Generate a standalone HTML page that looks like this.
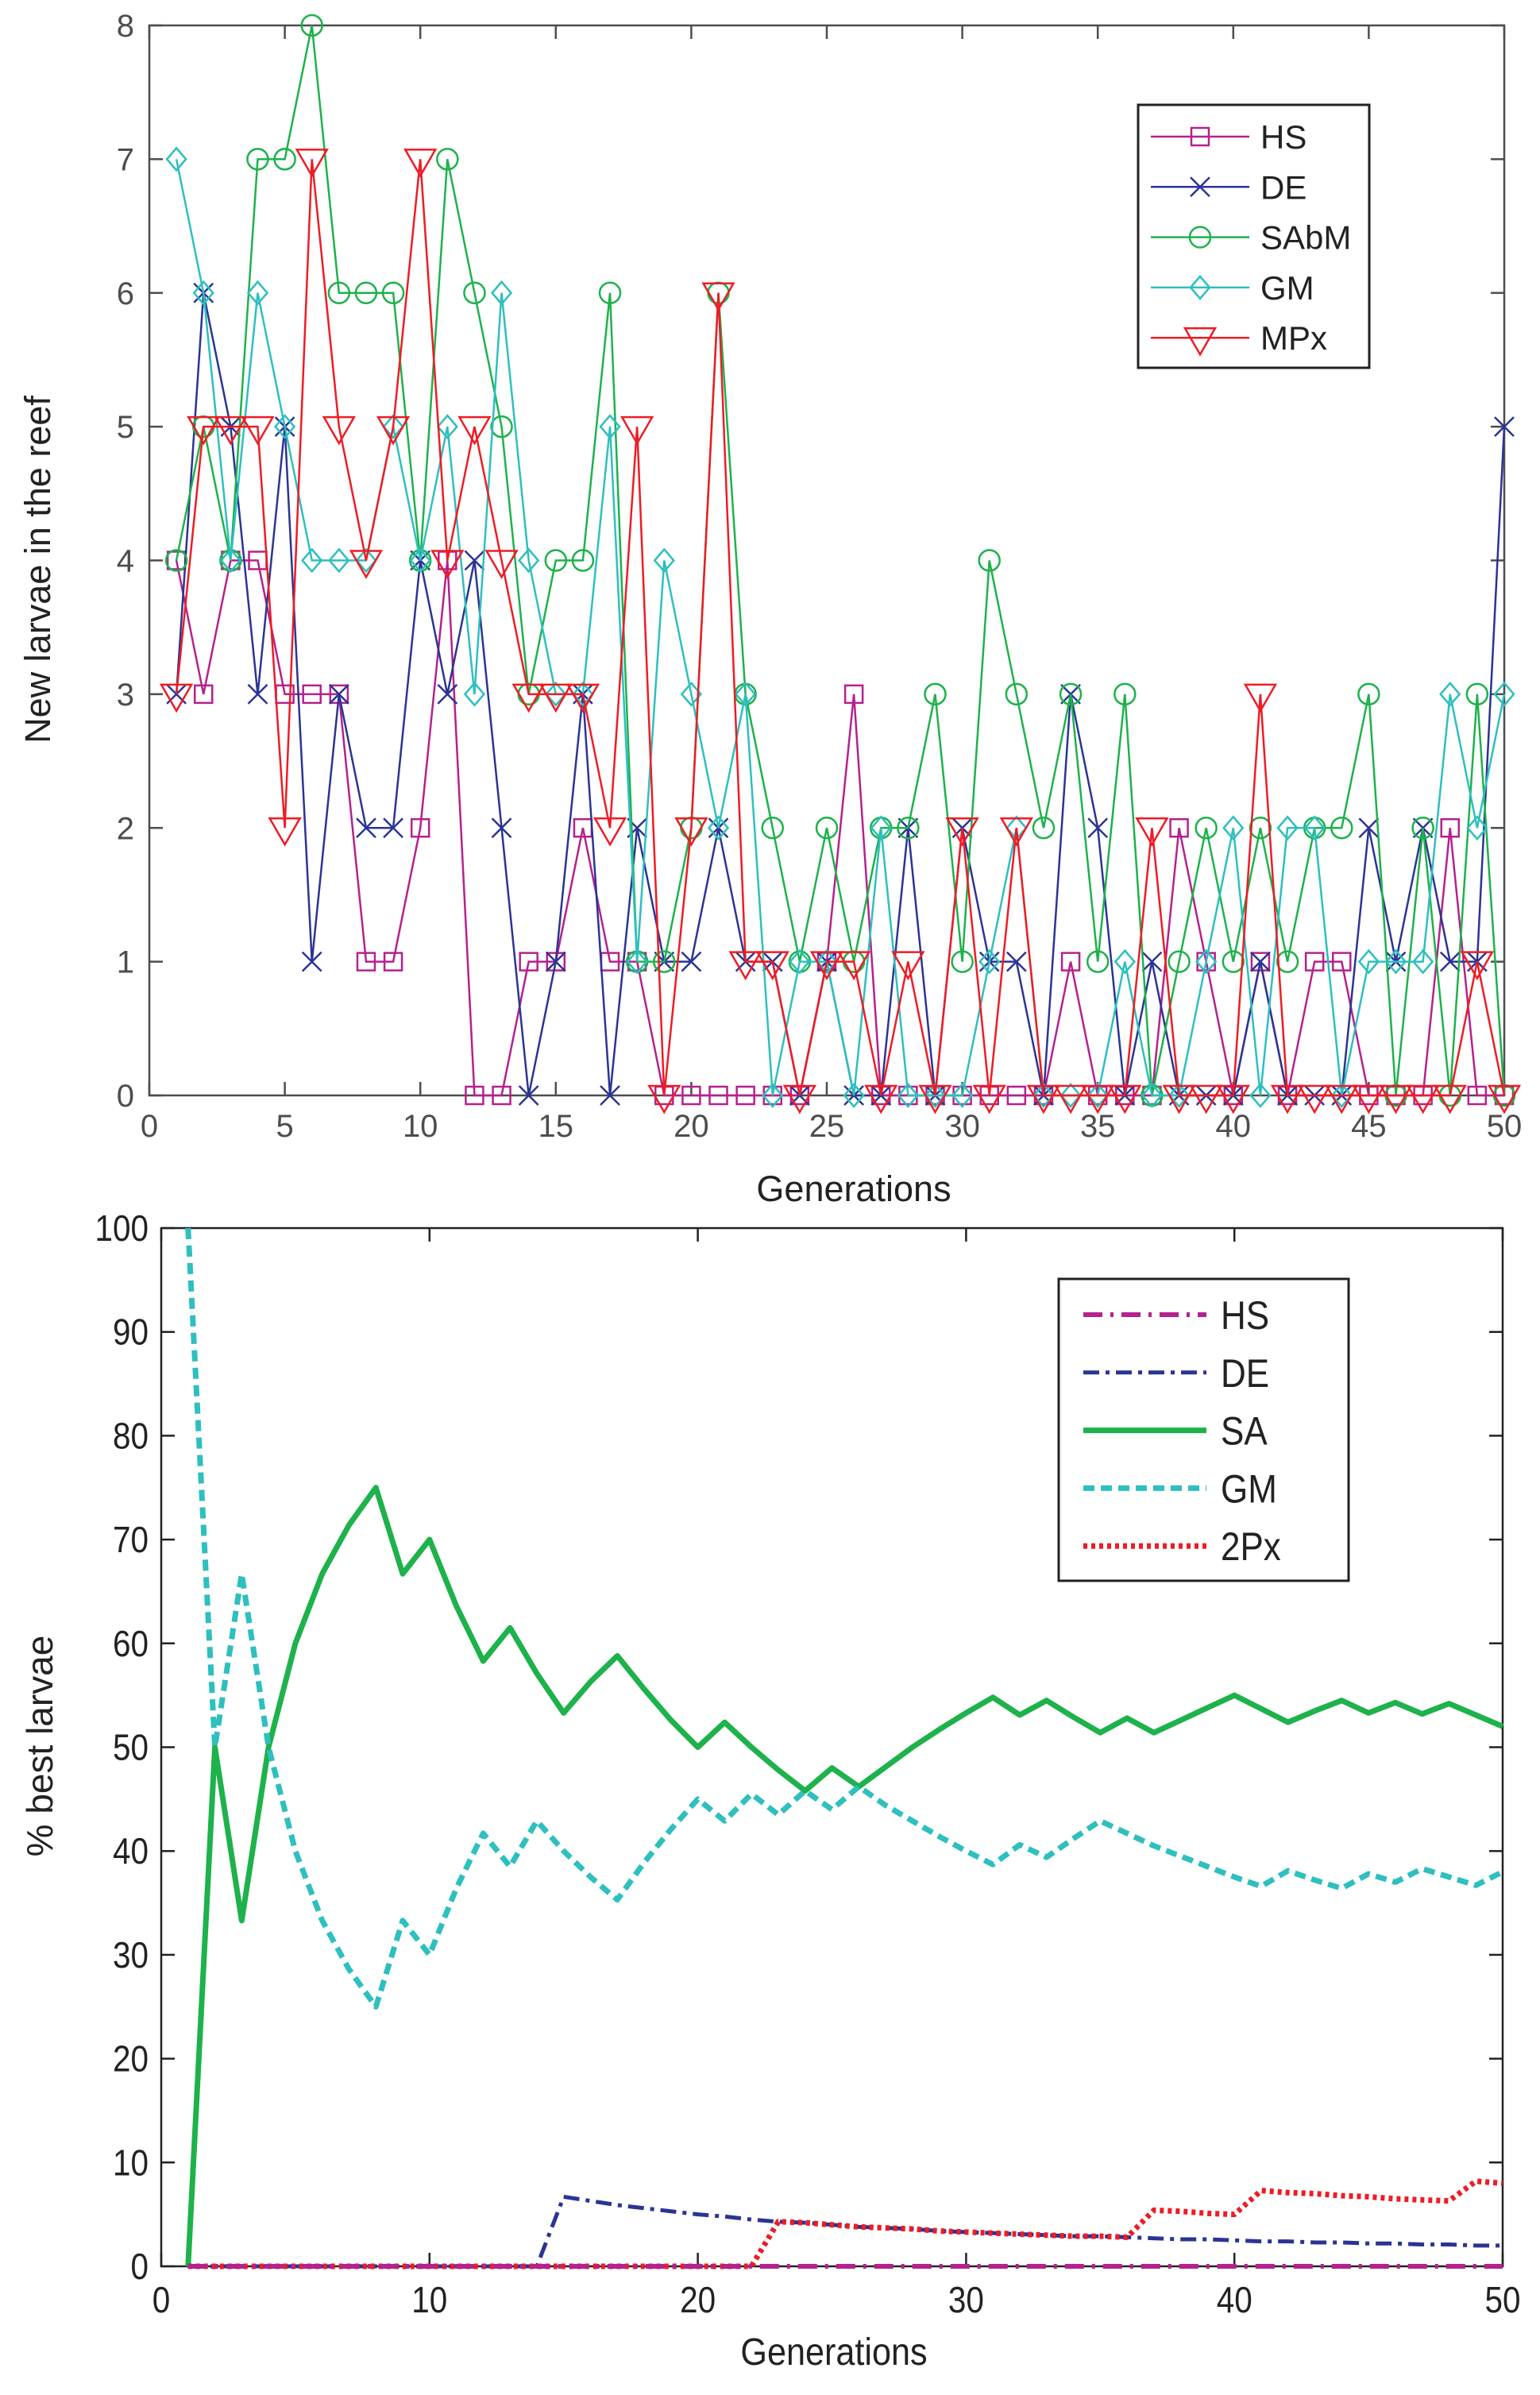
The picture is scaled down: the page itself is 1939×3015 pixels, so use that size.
<!DOCTYPE html>
<html><head><meta charset="utf-8"><style>
body{margin:0;background:#fff}
svg{display:block;font-family:"Liberation Sans",sans-serif}
</style></head><body>
<svg id="chart" width="1939" height="3015" viewBox="0 0 1939 3015" xmlns="http://www.w3.org/2000/svg">
<rect width="1939" height="3015" fill="#fff"/>
<g id="topchart"></g>
<g id="botchart"></g>
</svg>
<script>
const gens = Array.from({length:50},(_,i)=>i+1);
const topNames = ["HS","DE","SAbM","GM","MPx"];
const hsTop = [4,3,4,4,3,3,3,1,1,2,4,0,0,1,1,2,1,1,0,0,0,0,0,0,1,3,0,0,0,0,0,0,0,1,0,0,0,2,1,0,1,0,1,1,0,0,0,2,0,0];
const deTop = [3,6,5,3,5,1,3,2,2,4,3,4,2,0,1,3,0,2,1,1,2,1,1,0,1,0,0,2,0,2,1,1,0,3,2,0,1,0,0,0,1,0,0,0,2,1,2,1,1,5];
const sabmTop = [4,5,4,7,7,8,6,6,6,4,7,6,5,3,4,4,6,1,1,2,6,3,2,1,2,1,2,2,3,1,4,3,2,3,1,3,0,1,2,1,2,1,2,2,3,0,2,0,3,0];
const gmTop = [7,6,4,6,5,4,4,4,5,4,5,3,6,4,3,3,5,1,4,3,2,3,0,1,1,0,2,0,0,0,1,2,0,0,0,1,0,0,1,2,0,2,2,0,1,1,1,3,2,3];
const mpxTop = [3,5,5,5,2,7,5,4,5,7,4,5,4,3,3,3,2,5,0,2,6,1,1,0,1,1,0,1,0,2,0,2,0,0,0,0,2,0,0,0,3,0,0,0,0,0,0,0,1,0];
const topXTicks = [0,5,10,15,20,25,30,35,40,45,50];
const topYTicks = [0,1,2,3,4,5,6,7,8];

const botNames = ["HS","DE","SA","GM","2Px"];
const hsBot = new Array(50).fill(0);
const deBot = [0,0,0,0,0,0,0,0,0,0,0,0,0,0,6.7,6.3,5.9,5.6,5.3,5,4.8,4.5,4.3,4.2,4,3.8,3.7,3.6,3.4,3.3,3.2,3.1,3,2.9,2.9,2.8,2.7,2.6,2.6,2.5,2.4,2.4,2.3,2.3,2.2,2.2,2.1,2.1,2,2];
const saBot = [0,50,33.3,50,60,66.7,71.4,75,66.7,70,63.6,58.3,61.5,57.1,53.3,56.3,58.8,55.6,52.6,50,52.4,50,47.8,45.8,48,46.2,48.1,50,51.7,53.3,54.8,53.1,54.5,52.9,51.4,52.8,51.4,52.6,53.8,55,53.7,52.4,53.5,54.5,53.3,54.3,53.2,54.2,53.1,52];
const gmBot = [100,50,66.7,50,40,33.3,28.6,25,33.3,30,36.4,41.7,38.5,42.9,40,37.5,35.3,38.9,42.1,45,42.9,45.5,43.5,45.8,44,46.2,44.4,42.9,41.4,40,38.7,40.6,39.4,41.2,42.9,41.7,40.5,39.5,38.5,37.5,36.6,38.1,37.2,36.4,37.8,37,38.3,37.5,36.7,38];
const pxBot = [0,0,0,0,0,0,0,0,0,0,0,0,0,0,0,0,0,0,0,0,0,0,4.3,4.2,4,3.8,3.7,3.6,3.4,3.3,3.2,3.1,3,2.9,2.9,2.8,5.4,5.3,5.1,5,7.3,7.1,7,6.8,6.7,6.5,6.4,6.3,8.2,8];
const botXTicks = [0,10,20,30,40,50];
const botYTicks = [0,10,20,30,40,50,60,70,80,90,100];

const NS="http://www.w3.org/2000/svg";
function mk(parent,tag,attrs,text){const e=document.createElementNS(NS,tag);for(const k in attrs)e.setAttribute(k,attrs[k]);if(text!==undefined)e.textContent=text;parent.appendChild(e);return e;}

// ---- top chart ----
const T={x0:188,x1:1894,y0:1379,y1:32};
const tx=v=>T.x0+(v-0)/(50-0)*(T.x1-T.x0);
const ty=v=>T.y0-(v-0)/(8-0)*(T.y0-T.y1);
const topG=document.getElementById('topchart');
const axC="#4d4d4d";
for(const t of topXTicks){
  const a=mk(topG,'line',{x1:tx(t),x2:tx(t),y1:T.y0,y2:T.y0-17,stroke:axC,'stroke-width':2.5});
  
  const b=mk(topG,'line',{x1:tx(t),x2:tx(t),y1:T.y1,y2:T.y1+17,stroke:axC,'stroke-width':2.5});
  
  const l=mk(topG,'text',{x:tx(t),y:T.y0+52,'text-anchor':'middle','font-size':40,fill:axC},t);
  
}
for(const t of topYTicks){
  const a=mk(topG,'line',{x1:T.x0,x2:T.x0+17,y1:ty(t),y2:ty(t),stroke:axC,'stroke-width':2.5});
  
  const b=mk(topG,'line',{x1:T.x1,x2:T.x1-17,y1:ty(t),y2:ty(t),stroke:axC,'stroke-width':2.5});
  
  const l=mk(topG,'text',{x:169,y:ty(t)+14,'text-anchor':'end','font-size':40,fill:axC},t);
  
}
const tb=mk(topG,'rect',{x:T.x0,y:T.y1,width:T.x1-T.x0,height:T.y0-T.y1,fill:'none',stroke:axC,'stroke-width':2.5});

const txl=mk(topG,'text',{x:1075,y:1512,'text-anchor':'middle','font-size':45,fill:'#222'},'Generations');

const tyl=mk(topG,'text',{x:0,y:0,'text-anchor':'middle','font-size':45,fill:'#222',transform:'translate(63,717) rotate(-90)'},'New larvae in the reef');


function marker(g,type,x,y,c){
  if(type==='sq') return mk(g,'rect',{x:x-11,y:y-11,width:22,height:22,fill:'none',stroke:c,'stroke-width':2.5});
  if(type==='x') return mk(g,'path',{d:`M${x-12} ${y-12}L${x+12} ${y+12}M${x-12} ${y+12}L${x+12} ${y-12}`,stroke:c,'stroke-width':2.5,fill:'none'});
  if(type==='o') return mk(g,'circle',{cx:x,cy:y,r:13,fill:'none',stroke:c,'stroke-width':2.5});
  if(type==='d') return mk(g,'path',{d:`M${x} ${y-14}L${x+12} ${y}L${x} ${y+14}L${x-12} ${y}Z`,fill:'none',stroke:c,'stroke-width':2.5});
  if(type==='v') return mk(g,'path',{d:`M${x-19} ${y-12}L${x+19} ${y-12}L${x} ${y+21}Z`,fill:'none',stroke:c,'stroke-width':2.5});
}
const topSeries=[[hsTop,'#b5218d','sq'],[deTop,'#2b3494','x'],[sabmTop,'#1db24b','o'],[gmTop,'#2ebfbf','d'],[mpxTop,'#ee1c25','v']];
topSeries.forEach((s,i)=>{
  const g=mk(topG,'g',{});
  
  
  const pts=s[0].map((v,j)=>tx(gens[j])+','+ty(v)).join(' ');
  const pl=mk(g,'polyline',{points:pts,fill:'none',stroke:s[1],'stroke-width':2.5});
  
  
  s[0].forEach((v,j)=>{const m=marker(g,s[2],tx(gens[j]),ty(v),s[1]);
    
    });
});
const tl=mk(topG,'g',{});


mk(tl,'rect',{x:1433,y:132,width:291,height:331,fill:'#fff',stroke:'#222','stroke-width':3});
topSeries.forEach((s,i)=>{
  const y=172+i*63.3;
  const e=mk(tl,'g',{});
  
  
  mk(e,'line',{x1:1449,x2:1573,y1:y,y2:y,stroke:s[1],'stroke-width':2.5});
  marker(e,s[2],1511,y,s[1]);
  mk(e,'text',{x:1587,y:y+15,'font-size':42,fill:'#222'},topNames[i]);
});

// ---- bottom chart ----
const B={x0:203,x1:1892,y0:2853,y1:1546};
const bx=v=>B.x0+(v-0)/(50-0)*(B.x1-B.x0);
const by=v=>B.y0-(v-0)/(100-0)*(B.y0-B.y1);
const botG=document.getElementById('botchart');
const bc="#222";
for(const t of botXTicks){
  const a=mk(botG,'line',{x1:bx(t),x2:bx(t),y1:B.y0,y2:B.y0-17,stroke:bc,'stroke-width':2.5});
  
  const b=mk(botG,'line',{x1:bx(t),x2:bx(t),y1:B.y1,y2:B.y1+17,stroke:bc,'stroke-width':2.5});
  
  const l=mk(botG,'text',{x:0,y:0,'text-anchor':'middle','font-size':46,fill:bc,transform:`translate(${bx(t)},${B.y0+58}) scale(0.88,1)`},t);
  
}
for(const t of botYTicks){
  const a=mk(botG,'line',{x1:B.x0,x2:B.x0+17,y1:by(t),y2:by(t),stroke:bc,'stroke-width':2.5});
  
  const b=mk(botG,'line',{x1:B.x1,x2:B.x1-17,y1:by(t),y2:by(t),stroke:bc,'stroke-width':2.5});
  
  const l=mk(botG,'text',{x:0,y:0,'text-anchor':'end','font-size':46,fill:bc,transform:`translate(187,${by(t)+16}) scale(0.88,1)`},t);
  
}
const bb=mk(botG,'rect',{x:B.x0,y:B.y1,width:B.x1-B.x0,height:B.y0-B.y1,fill:'none',stroke:bc,'stroke-width':2.5});

const bxl=mk(botG,'text',{x:0,y:0,'text-anchor':'middle','font-size':48,fill:bc,transform:'translate(1050,2977) scale(0.9,1)'},'Generations');

const byl=mk(botG,'text',{x:0,y:0,'text-anchor':'middle','font-size':46,fill:bc,transform:'translate(66,2198) rotate(-90)'},'% best larvae');


const botSeries=[[hsBot,'#b5218d','24 10 4 10',6],[deBot,'#2b3494','20 8 5 8',5],[saBot,'#1db24b','',7],[gmBot,'#2ebfbf','14 8',7],[pxBot,'#ee1c25','5 5',7]];
const order=[2,3,1,4,0];
order.forEach(i=>{
  const s=botSeries[i];
  const pts=s[0].map((v,j)=>bx(gens[j])+','+by(v)).join(' ');
  const pl=mk(botG,'polyline',{points:pts,fill:'none',stroke:s[1],'stroke-width':s[3],'stroke-dasharray':s[2],'stroke-linejoin':'round'});
  
  
});
const bl=mk(botG,'g',{});


mk(bl,'rect',{x:1333,y:1610,width:365,height:380,fill:'#fff',stroke:'#222','stroke-width':3});
botSeries.forEach((s,i)=>{
  const y=1655+i*72.8;
  const e=mk(bl,'g',{});
  
  
  mk(e,'line',{x1:1364,x2:1519,y1:y,y2:y,stroke:s[1],'stroke-width':s[3],'stroke-dasharray':s[2]});
  mk(e,'text',{x:0,y:0,'font-size':50,fill:'#222',transform:`translate(1537,${y+18}) scale(0.88,1)`},botNames[i]);
});
</script>
</body></html>
